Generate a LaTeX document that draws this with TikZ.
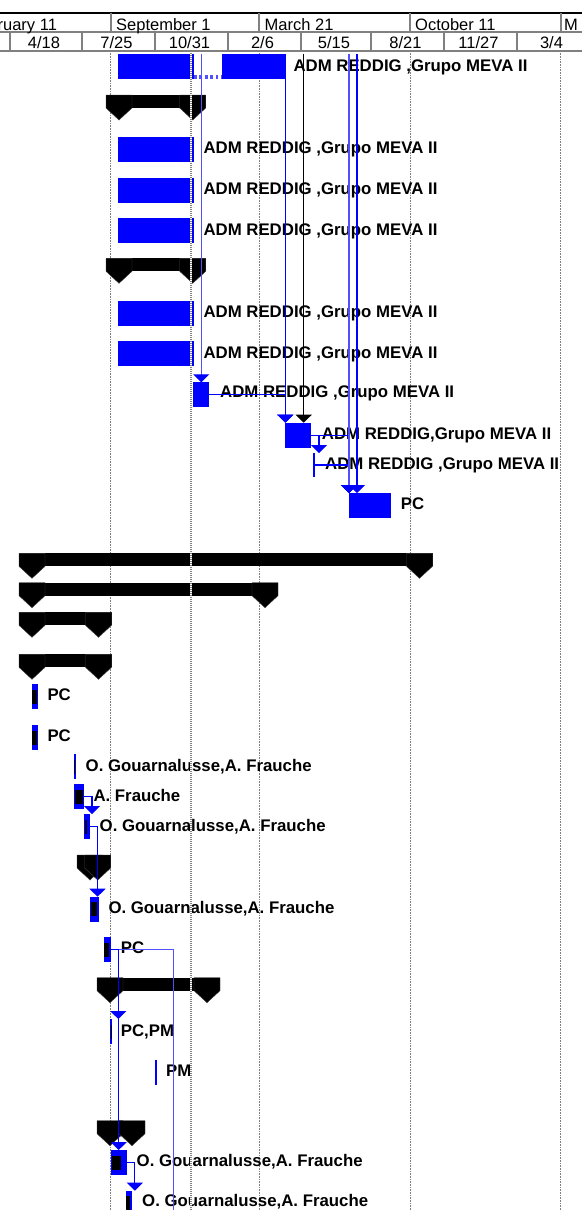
\documentclass[tikz,border=0pt]{standalone}
\usepackage{fontspec}
\setmainfont{Liberation Sans}
\usetikzlibrary{arrows.meta}
\definecolor{BarBlue}{HTML}{0000FF}
\definecolor{PaleBlue}{HTML}{5050FF}
\definecolor{RuleGray}{HTML}{808080}
\definecolor{Ink}{HTML}{000000}
\newcommand{\mevalabel}{ADM REDDIG ,Grupo MEVA II}
\newcommand{\gflabel}{O. Gouarnalusse,A. Frauche}
% summary bar: name, start, finish, top
\newcommand{\summarybar}[4]{%
  \fill[Ink] (#2-13,#4) rectangle (#3+13,#4+13);
  \filldraw[sumcap] (#2-13,#4) -- (#2+13,#4) -- (#2+13,#4+13) -- (#2,#4+25) -- (#2-13,#4+13) -- cycle;
  \filldraw[sumcap] (#3-13,#4) -- (#3+13,#4) -- (#3+13,#4+13) -- (#3,#4+25) -- (#3-13,#4+13) -- cycle;
  \coordinate (#1) at (#2,#4);}
\tikzset{
  taskbar/.style={fill=BarBlue,inner sep=0pt,outer sep=0pt,anchor=north west,minimum height=25pt},
  donebar/.style={fill=Ink,inner sep=0pt,outer sep=0pt,anchor=west,minimum height=14pt},
  sumcap/.style={fill=Ink,draw=RuleGray!50!Ink,line width=0.4pt},
  barlabel/.style={anchor=base west,inner sep=0pt,font=\fontsize{16.8}{19}\selectfont\bfseries},
  monthlabel/.style={anchor=base west,inner sep=0pt,font=\fontsize{16.5}{19}\selectfont},
  weeklabel/.style={anchor=base,inner sep=0pt,font=\fontsize{16.5}{19}\selectfont},
  headrule/.style={RuleGray,line width=1.8pt},
  gridline/.style={RuleGray,line width=0.6pt,densely dotted},
  wire/.style={BarBlue,line width=1.1pt},
  link/.style={wire,-{Triangle[width=16pt,length=8pt]}},
  palelink/.style={wire,PaleBlue,line width=1.2pt,-{Triangle[width=16pt,length=8pt,color=BarBlue]}},
  splitdash/.style={PaleBlue,line width=4pt,dash pattern=on 2.7pt off 2.7pt},
}

\begin{document}
\begin{tikzpicture}[x=1pt,y=-1pt]
    \useasboundingbox (0,0) rectangle (582,1210);
    \clip (0,0) rectangle (582,1210);
    \fill[white] (0,0) rectangle (582,1210);

    % timescale
    \draw[Ink,line width=2pt] (0,12.7) -- (582,12.7);
    \draw[headrule] (0,32) -- (582,32);
    \draw[headrule] (0,51) -- (582,51);
    \foreach \x in {111,259,410,561} \draw[headrule] (\x,13) -- (\x,32);
    \foreach \x in {10,82,155,228,301,371,444,517} \draw[headrule] (\x,32) -- (\x,51);
    \node[monthlabel] (feb) at (-31,30) {February 11};
    \node[monthlabel] (sep) at (116,30) {September 1};
    \node[monthlabel] (mar) at (264.5,30) {March 21};
    \node[monthlabel] (oct) at (415,30) {October 11};
    \node[monthlabel] (nxt) at (564,30) {M};
    \node[weeklabel] (wk1) at (44,48.5) {4/18};
    \node[weeklabel] (wk2) at (116.5,48.5) {7/25};
    \node[weeklabel] (wk3) at (189.5,48.5) {10/31};
    \node[weeklabel] (wk4) at (262.5,48.5) {2/6};
    \node[weeklabel] (wk5) at (334,48.5) {5/15};
    \node[weeklabel] (wk6) at (405.5,48.5) {8/21};
    \node[weeklabel] (wk7) at (478.5,48.5) {11/27};
    \node[weeklabel] (wk8) at (551.5,48.5) {3/4};

    % grid
    \foreach \x in {110.7,259,410,560} \draw[gridline] (\x,51) -- (\x,1210);

    % upper tasks
    \node[taskbar,minimum width=75.7pt] (t1a) at (118.3,54.3) {};
    \node[taskbar,minimum width=63pt] (t1b) at (222.3,54.3) {};
    \draw[splitdash] ([yshift=-10pt]t1a.east) -- ([yshift=-10pt]t1b.west);
    \summarybar{s2}{119}{192.7}{95}
    \node[taskbar,minimum width=75.7pt] (t3) at (118.3,136.7) {};
    \node[taskbar,minimum width=75.7pt] (t4) at (118.3,177.7) {};
    \node[taskbar,minimum width=75.7pt] (t5) at (118.3,218.3) {};
    \summarybar{s6}{119}{192.7}{258.3}
    \node[taskbar,minimum width=75.7pt] (t7) at (118.3,301) {};
    \node[taskbar,minimum width=75.7pt] (t8) at (118.3,341) {};
    \node[taskbar,minimum width=16pt] (t9) at (193.3,382.3) {};
    \node[taskbar,minimum width=25.7pt] (t10) at (285.3,422.7) {};
    \node[taskbar,minimum width=1.6pt,minimum height=24pt] (t11) at (313.2,453) {};
    \node[taskbar,minimum width=41.7pt] (t12) at (349,493) {};

    % lower tasks
    \summarybar{s13}{32}{419.5}{553.3}
    \summarybar{s14}{32}{265}{582.7}
    \summarybar{s15}{32}{98.5}{612.3}
    \summarybar{s16}{32}{98.5}{654.3}
    \node[taskbar,minimum width=6pt] (t17) at (32,684) {};
    \node[donebar,minimum width=5.3pt] (p17) at (t17.west) {};
    \node[taskbar,minimum width=6pt] (t18) at (32,725) {};
    \node[donebar,minimum width=5.3pt] (p18) at (t18.west) {};
    \node[taskbar,minimum width=2pt] (t19) at (73.5,754.3) {};
    \node[donebar,minimum width=1pt] (p19) at ([xshift=0.5pt]t19.west) {};
    \node[taskbar,minimum width=10pt] (t20) at (74,784) {};
    \node[donebar,minimum width=7.7pt] (p20) at ([xshift=1pt]t20.west) {};
    \node[taskbar,minimum width=6pt] (t21) at (84,814) {};
    \node[donebar,minimum width=2.3pt] (p21) at ([xshift=1pt]t21.west) {};
    \summarybar{s22}{90}{97.7}{855}
    \node[taskbar,minimum width=9pt] (t23) at (90,896.7) {};
    \node[donebar,minimum width=6pt] (p23) at ([xshift=1pt]t23.west) {};
    \node[taskbar,minimum width=7pt] (t24) at (104,937) {};
    \node[donebar,minimum width=5pt] (p24) at (t24.west) {};
    \summarybar{s25}{110}{207}{977.7}
    \node[taskbar,minimum width=2pt] (t26) at (110,1019) {};
    \node[donebar,minimum width=1pt] (p26) at ([xshift=0.5pt]t26.west) {};
    \node[taskbar,minimum width=2pt] (t27) at (155,1060) {};
    \summarybar{s28}{110}{132}{1120.7}
    \node[taskbar,minimum width=16pt] (t29) at (110.7,1150) {};
    \node[donebar,minimum width=9pt] (p29) at ([xshift=1pt]t29.west) {};
    \node[taskbar,minimum width=5.7pt] (t30) at (126,1190.7) {};
    \node[donebar,minimum width=4pt] (p30) at (t30.west) {};

    % resource labels
    \node[barlabel] (l1) at (293.3,71.5) {\mevalabel};
    \node[barlabel] (l3) at (203.3,153.5) {\mevalabel};
    \node[barlabel] (l4) at (203.3,194.7) {\mevalabel};
    \node[barlabel] (l5) at (203.3,235.3) {\mevalabel};
    \node[barlabel] (l7) at (203.3,317.8) {\mevalabel};
    \node[barlabel] (l8) at (203.3,358) {\mevalabel};
    \node[barlabel] (l9) at (220,397) {\mevalabel};
    \node[barlabel] (l10) at (321.7,439.3) {ADM REDDIG,Grupo MEVA II};
    \node[barlabel] (l11) at (325,469.3) {\mevalabel};
    \node[barlabel] (l12) at (400.7,509) {PC};
    \node[barlabel] (l17) at (47.3,700.2) {PC};
    \node[barlabel] (l18) at (47.3,741.2) {PC};
    \node[barlabel] (l19) at (85.5,771.2) {\gflabel};
    \node[barlabel] (l20) at (93.3,801.8) {A. Frauche};
    \node[barlabel] (l21) at (99.5,831.2) {\gflabel};
    \node[barlabel] (l23) at (108.3,913.5) {\gflabel};
    \node[barlabel] (l24) at (120.7,953.5) {PC};
    \node[barlabel] (l26) at (120.7,1036) {PC,PM};
    \node[barlabel] (l27) at (166,1076) {PM};
    \node[barlabel] (l29) at (136.5,1166) {\gflabel};
    \node[barlabel] (l30) at (142,1206.8) {\gflabel};

    % dependencies
    \coordinate (feedB) at (201.3,53.5);
    \coordinate (feedC) at (303.7,53.5);
    \coordinate (feedD) at (349,53.5);
    \coordinate (feedE) at (357,53.5);
    \coordinate (sinkC) at (173.3,1215);
    \draw[palelink] (feedB) -- (feedB |- t9.north);
    \draw[link] (t1b.north east) -- (t1b.north east |- t10.north);
    \draw[link] (t9.east) -| (t10.north west);
    \draw[link,Ink] (feedC) -- (feedC |- t10.north);
    \draw[link] (t10.east) -| ([xshift=5pt]t11.north);
    \draw[link] (t10.east) -| (t12.north west);
    \draw[link] (t11.east) -| (t12.north west);
    \draw[palelink] (feedD) -- (feedD |- t12.north);
    \draw[link] (feedE) -- (feedE |- t12.north);
    \draw[link] (t20.east) -| ([xshift=2pt]t21.north east);
    \draw[link] (t21.east) -| ([xshift=3pt]t23.north);
    \draw[wire,PaleBlue,line width=1.2pt] (t24.east) -| (sinkC);
    \draw[link] (t24.east) -| ([xshift=7.3pt]t26.north);
    \draw[link] (t24.east) -| (t29.north);
    \draw[link] (t29.east) -| ([xshift=6pt]t30.north);

    % status date
    \draw[white,line width=2.2pt] (190.7,51) -- (190.7,1210);
    \draw[RuleGray,line width=2.2pt,dash pattern=on 1pt off 1pt] (190.7,51) -- (190.7,1210);
\end{tikzpicture}
\end{document}
